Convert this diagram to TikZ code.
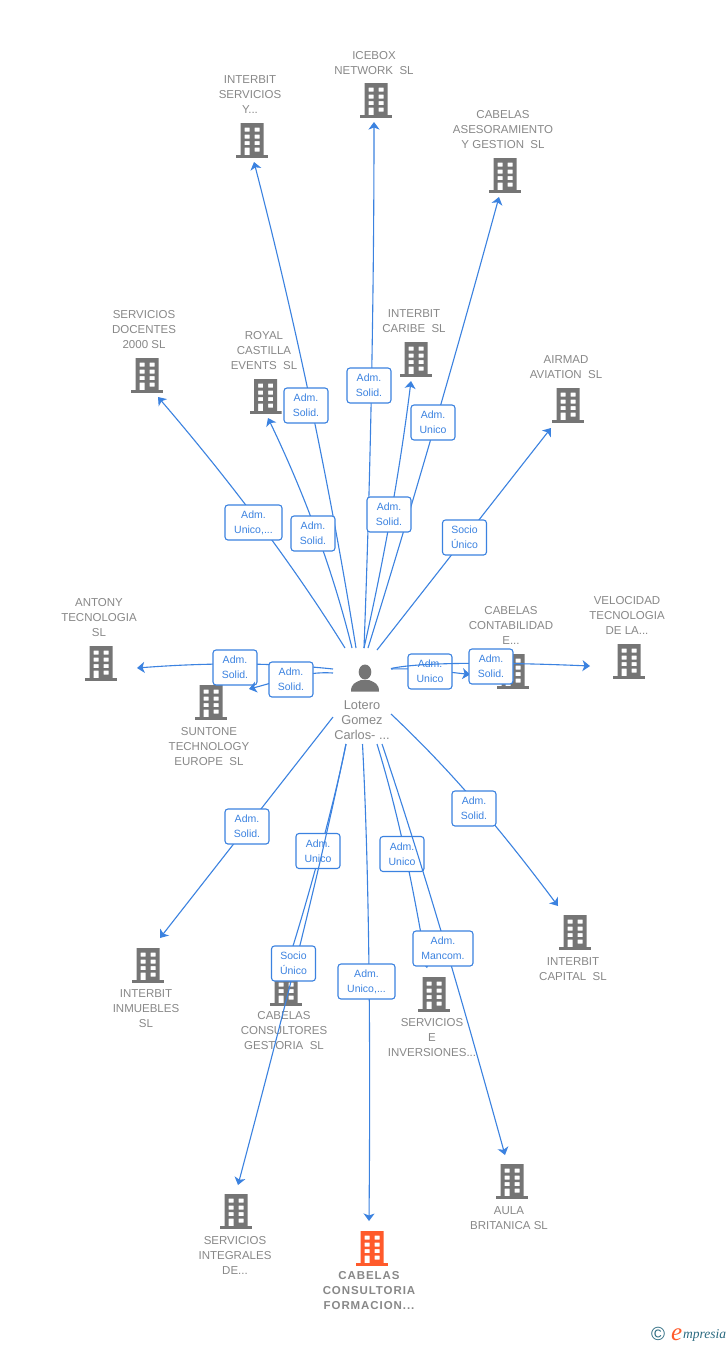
\documentclass[tikz,border=0pt]{standalone}
\usepackage{fontspec}
\setmainfont{Liberation Sans}
\newfontfamily\spacedbold[LetterSpace=8]{Liberation Sans Bold}
\newfontfamily\logofont{Liberation Serif Italic}
\usetikzlibrary{arrows.meta}
\definecolor{linkblue}{HTML}{3B82E0}
\definecolor{labgray}{HTML}{888888}
\definecolor{icongray}{HTML}{757575}
\definecolor{iconorange}{HTML}{FF5A2B}
\definecolor{logoteal}{HTML}{2A6A80}
\tikzset{
  conn/.style={draw=linkblue,line width=1.1pt,-{Stealth[length=7.5pt,width=11pt,inset=2pt]}},
  tagbox/.style={draw=linkblue,line width=1.1pt,rounded corners=3pt,fill=white,text=linkblue,
    align=center,inner sep=0pt,minimum width=44pt,minimum height=35pt,
    font=\fontsize{10.5}{15}\selectfont},
  widetag/.style={minimum width=57pt},
  mancom/.style={minimum width=60pt},
  lbl/.style={text=labgray,align=center,inner sep=0pt,yshift=-1pt,font=\fontsize{11.5}{15}\selectfont},
  lblhub/.style={text=labgray,align=center,inner sep=0pt,yshift=-1pt,font=\fontsize{12.8}{15}\selectfont},
  lblmain/.style={text=labgray,align=center,inner sep=0pt,yshift=-1pt,font=\fontsize{11.5}{15}\spacedbold},
  bldg/.style={minimum width=32pt,minimum height=36pt,inner sep=0pt,
    path picture={
      \begin{scope}[shift={(path picture bounding box.center)}]
        \fill[#1,even odd rule]
          (-11.5,-17) rectangle (11.5,15)
          (-7.5,-12.5) rectangle (-2.5,-8.3) (2.5,-12.5) rectangle (7.5,-8.3)
          (-7.5,-5.4) rectangle (-2.5,-1.5) (2.5,-5.4) rectangle (7.5,-1.5)
          (-7.5,1) rectangle (-2.5,5) (2.5,1) rectangle (7.5,5)
          (-7.5,7.7) rectangle (-2.5,15) (2.5,7.7) rectangle (7.5,11.7);
        \fill[#1] (-16,15) rectangle (16,18);
      \end{scope}
    }},
  bldg/.default=icongray
}
\newcommand{\cnn}[7]{%
  \coordinate (s#1) at (#2);
  \coordinate (e#1) at (#3);
  \draw[conn] (s#1) #4 (e#1);
  \node[tagbox,#7] (l#1) at (#5) {#6};
}
\begin{document}
\begin{tikzpicture}[x=1pt,y=-1pt]
\useasboundingbox[fill=white] (0,0) rectangle (728,1345);
% buildings
\node[bldg] (bServ) at (252,140) {};
\node[bldg] (bIce) at (376,100) {};
\node[bldg] (bAses) at (505,175) {};
\node[bldg] (bDoc) at (147,375) {};
\node[bldg] (bRoyal) at (265.5,396) {};
\node[bldg] (bCarib) at (416,359) {};
\node[bldg] (bAir) at (568,405) {};
\node[bldg] (bAnt) at (101,663) {};
\node[bldg] (bSun) at (211,702) {};
\node[bldg] (bCont) at (513,671) {};
\node[bldg] (bVel) at (629,661) {};
\node[bldg] (bInm) at (148,965) {};
\node[bldg] (bCap) at (575,932) {};
\node[bldg] (bGest) at (286,988) {};
\node[bldg] (bInv) at (434,994) {};
\node[bldg] (bAula) at (512,1181) {};
\node[bldg] (bInt) at (236,1211) {};
\node[bldg=iconorange] (bMain) at (372,1248) {};
% names
\node[lbl] (tServ) at (250,94) {INTERBIT\\SERVICIOS\\Y...};
\node[lbl] (tIce) at (374,62.5) {ICEBOX\\NETWORK\ \ SL};
\node[lbl] (tAses) at (503,129) {CABELAS\\ASESORAMIENTO\\Y GESTION\ \ SL};
\node[lbl] (tDoc) at (144,329) {SERVICIOS\\DOCENTES\\2000 SL};
\node[lbl] (tRoyal) at (264,350) {ROYAL\\CASTILLA\\EVENTS\ \ SL};
\node[lbl] (tCarib) at (414,320) {INTERBIT\\CARIBE\ \ SL};
\node[lbl] (tAir) at (566,366.5) {AIRMAD\\AVIATION\ \ SL};
\node[lbl] (tAnt) at (99,617) {ANTONY\\TECNOLOGIA\\SL};
\node[lbl] (tSun) at (209,746) {SUNTONE\\TECHNOLOGY\\EUROPE\ \ SL};
\node[lbl] (tCont) at (511,624) {CABELAS\\CONTABILIDAD\\E...};
\node[lbl] (tVel) at (627,614) {VELOCIDAD\\TECNOLOGIA\\DE LA...};
\node[lbl] (tInm) at (146,1008) {INTERBIT\\INMUEBLES\\SL};
\node[lbl] (tCap) at (573,968.5) {INTERBIT\\CAPITAL\ \ SL};
\node[lbl] (tGest) at (284,1030) {CABELAS\\CONSULTORES\\GESTORIA\ \ SL};
\node[lbl] (tInv) at (432,1037) {SERVICIOS\\E\\INVERSIONES...};
\node[lbl] (tAula) at (509,1217.5) {AULA\\BRITANICA SL};
\node[lbl] (tInt) at (235,1254) {SERVICIOS\\INTEGRALES\\DE...};
\node[lblmain] (tMain) at (369,1290) {CABELAS\\CONSULTORIA\\FORMACION...};
% hub
\node[minimum width=30pt,minimum height=30pt,inner sep=0pt] (hub) at (365,678) {};
\fill[icongray] (365,672) ellipse (6.3 and 7.5);
\fill[icongray] (351,691.5) .. controls (351,684) and (355,682.5) .. (361,680)
  -- (369,680) .. controls (375,682.5) and (379,684) .. (379,691.5) -- cycle;
\node[lblhub] (tHub) at (362,719.5) {Lotero\\Gomez\\Carlos- ...};
% connectors and their labels, in drawing order
\cnn{1}{356,648}{254,162}{.. controls (330,486) and (296,324) ..}{306,405.5}{Adm.\\Solid.}{}
\cnn{2}{364,648}{374,122}{.. controls (370.6,473) and (374,297) ..}{369,385.5}{Adm.\\Solid.}{}
\cnn{3}{368,648}{499,197}{.. controls (414.7,497.7) and (458,347) ..}{433,422.5}{Adm.\\Unico}{}
\cnn{4}{345,648}{158,397}{.. controls (292.7,564) and (230,481) ..}{253.5,522.5}{Adm.\\Unico,...}{widetag}
\cnn{5}{352,648}{268,418}{.. controls (333,571) and (305,495) ..}{313,533.5}{Adm.\\Solid.}{}
\cnn{6}{364,648}{411,381}{.. controls (384,559) and (400,470) ..}{389,514.5}{Adm.\\Solid.}{}
\cnn{7}{377,650}{551,428}{--}{464.5,537.5}{Socio\\Único}{}
\cnn{8}{333,669}{137,668}{.. controls (268,662) and (202,663) ..}{235,667.5}{Adm.\\Solid.}{}
\cnn{9}{333,673}{249,689}{.. controls (305,671) and (280,681) ..}{291,679.5}{Adm.\\Solid.}{}
\cnn{10}{391,669}{470,674.5}{.. controls (415,668) and (440,671) ..}{430,671.5}{Adm.\\Unico}{}
\cnn{11}{391,668.5}{590,666}{.. controls (425,661) and (520,663) ..}{491,666.5}{Adm.\\Solid.}{}
\cnn{12}{333,717}{160,938}{--}{247,826.5}{Adm.\\Solid.}{}
\cnn{13}{391,714}{558,906}{.. controls (459,778) and (510,842) ..}{474,808.5}{Adm.\\Solid.}{}
\cnn{14}{346,744}{286,968}{.. controls (335,800) and (308,900) ..}{318,851}{Adm.\\Unico}{}
\cnn{15}{346,744}{238,1185}{.. controls (315.5,891) and (277,1038) ..}{293.5,963.5}{Socio\\Único}{}
\cnn{16}{362.5,744}{369,1221}{.. controls (368,850) and (371,1000) ..}{366.5,981.5}{Adm.\\Unico,...}{widetag}
\cnn{17}{377,744}{427,968}{.. controls (400,819) and (414,893) ..}{402,854}{Adm.\\Unico}{}
\cnn{18}{382,744}{505,1155}{.. controls (428,881) and (467,1018) ..}{443,948.5}{Adm.\\Mancom.}{mancom}
% logo
\node[text=logoteal,inner sep=0pt,font=\fontsize{19}{19}\selectfont] (copy) at (658,1334) {©};
\node[anchor=base west,inner sep=0pt,text=iconorange,font=\fontsize{25}{25}\logofont] (logoE) at (671,1340) {e};
\node[anchor=base west,inner sep=0pt,text=logoteal,font=\fontsize{13.5}{13.5}\logofont] (logoT) at (683,1338) {mpresia};
\end{tikzpicture}
\end{document}
